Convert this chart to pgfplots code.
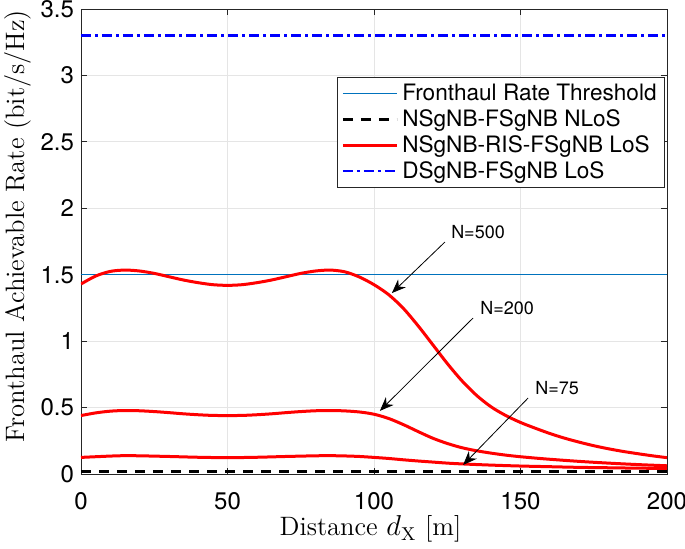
\documentclass[border=0pt]{standalone}
\usepackage{fontspec}
\usepackage{pgfplots}
\pgfplotsset{compat=1.18}
\usepackage{pgfplotstable}
\usetikzlibrary{arrows.meta}
\newfontfamily\heros{TeX Gyre Heros}
\definecolor{mblue}{rgb}{0,0.447,0.741}
\definecolor{axgray}{rgb}{0.15,0.15,0.15}

\pgfplotstableread{
x y
0 1.43
5 1.49
10 1.525
15 1.535
20 1.528
25 1.51
30 1.485
35 1.46
40 1.44
45 1.425
50 1.42
55 1.425
60 1.44
65 1.46
70 1.485
75 1.51
80 1.528
85 1.535
90 1.522
95 1.483
100 1.425
105 1.35
110 1.247
115 1.117
120 0.975
125 0.832
130 0.702
135 0.592
140 0.505
145 0.44
150 0.388
155 0.345
160 0.305
165 0.27
170 0.24
175 0.213
180 0.19
185 0.17
190 0.153
195 0.137
200 0.123
}\nfive

\pgfplotstableread{
x y
0 0.44
5 0.46
10 0.473
15 0.478
20 0.476
25 0.47
30 0.462
35 0.453
40 0.446
45 0.441
50 0.44
55 0.441
60 0.446
65 0.453
70 0.462
75 0.47
80 0.476
85 0.478
90 0.475
95 0.467
100 0.45
105 0.418
110 0.372
115 0.32
120 0.27
125 0.23
130 0.198
135 0.175
140 0.157
145 0.142
150 0.13
155 0.12
160 0.111
170 0.095
180 0.082
190 0.071
200 0.062
}\ntwo

\pgfplotstableread{
x y
0 0.125
10 0.135
15 0.138
20 0.137
30 0.132
40 0.126
50 0.123
60 0.126
70 0.132
80 0.137
85 0.138
90 0.136
95 0.132
100 0.125
105 0.117
110 0.107
115 0.098
120 0.09
125 0.082
130 0.076
140 0.067
150 0.06
160 0.055
170 0.05
180 0.047
190 0.044
200 0.042
}\nsev

\begin{document}
\begin{tikzpicture}
\begin{axis}[
 at={(0,0)}, anchor=south west,
 scale only axis, width=293pt, height=232.5pt,
 xmin=0, xmax=200, ymin=0, ymax=3.5,
 xtick={0,50,100,150,200}, ytick={0,0.5,1,1.5,2,2.5,3,3.5},
 grid=major, major grid style={color=black!10, line width=0.4pt},
 axis line style={color=axgray, line width=0.4pt},
 tick style={color=axgray, line width=0.4pt},
 tick align=inside, major tick length=3pt,
 /pgf/number format/assume math mode=true,
 ticklabel style={font=\fontsize{12}{14}\heros},
 xticklabel style={yshift=-5.5pt},
 label style={font=\fontsize{13.3}{15}\selectfont},
 xlabel={Distance $d_{\mathrm{X}}$ [m]},
 ylabel={Fronthaul Achievable Rate (bit/s/Hz)},
 xlabel style={at={(axis description cs:0.494,-0.1333)}, anchor=base},
 ylabel style={at={(axis description cs:-0.1075,0.533)}, anchor=center},
 legend style={at={(axis description cs:0.9966,0.8538)}, anchor=north east,
   font=\fontsize{11.3}{13}\heros, draw=axgray, inner xsep=2pt, inner ysep=1.3pt,
   row sep=-1pt, cells={anchor=west}},
 legend image code/.code={\draw[#1] (0pt,0pt) -- (27pt,0pt);},
]
\addplot[color=mblue, line width=0.6pt] coordinates {(0,1.5) (200,1.5)};
\addlegendentry{Fronthaul Rate Threshold}
\addplot[color=black, line width=1.5pt, dash pattern=on 5pt off 4pt] coordinates {(0,0.02) (200,0.02)};
\addlegendentry{NSgNB-FSgNB NLoS}
\addplot[color=red, line width=1.5pt, smooth] table[x=x,y=y] {\nfive};
\addlegendentry{NSgNB-RIS-FSgNB LoS}
\addplot[color=blue, line width=1.2pt, dash pattern=on 5pt off 2pt on 1.5pt off 2pt] coordinates {(0,3.3) (200,3.3)};
\addlegendentry{DSgNB-FSgNB LoS}
\addplot[color=red, line width=1.5pt, smooth, forget plot] table[x=x,y=y] {\ntwo};
\addplot[color=red, line width=1.5pt, smooth, forget plot] table[x=x,y=y] {\nsev};

\draw[-{Stealth[length=7pt,width=5.5pt]}, line width=0.4pt] (axis cs:124.2,1.746) -- (axis cs:106.1,1.362);
\node[font=\fontsize{9}{10}\heros] at (axis cs:135.5,1.82) {N=500};
\draw[-{Stealth[length=7pt,width=5.5pt]}, line width=0.4pt] (axis cs:133.8,1.174) -- (axis cs:102.0,0.475);
\node[font=\fontsize{9}{10}\heros] at (axis cs:145.4,1.25) {N=200};
\draw[-{Stealth[length=7pt,width=5.5pt]}, line width=0.4pt] (axis cs:152.6,0.572) -- (axis cs:130.4,0.068);
\node[font=\fontsize{9}{10}\heros] at (axis cs:162.5,0.647) {N=75};
\end{axis}
\pgfresetboundingbox
\useasboundingbox (-40.5pt,-37pt) rectangle (302pt,237pt);
\end{tikzpicture}
\end{document}
